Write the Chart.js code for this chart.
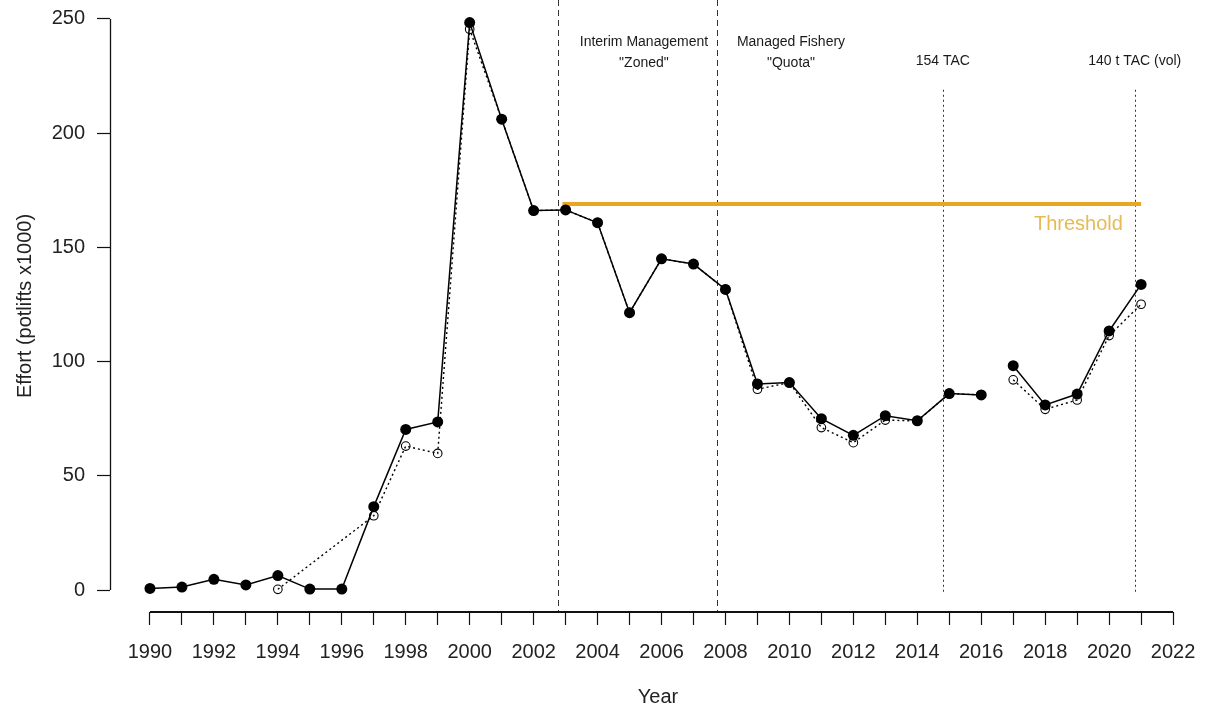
<!DOCTYPE html>
<html>
<head>
<meta charset="utf-8">
<script src="https://cdn.jsdelivr.net/npm/chart.js@4.4.1/dist/chart.umd.min.js"></script>
<style>
  html, body { margin: 0; padding: 0; background: #fff; }
  #wrap { width: 1206px; height: 713px; }
</style>
</head>
<body>
<div id="wrap"><canvas id="effortChart"></canvas></div>
<script>
// fishing seasons
var years = [1990, 1991, 1992, 1993, 1994, 1995, 1996, 1997, 1998, 1999,
             2000, 2001, 2002, 2003, 2004, 2005, 2006, 2007, 2008, 2009,
             2010, 2011, 2012, 2013, 2014, 2015, 2016, 2017, 2018, 2019,
             2020, 2021];

// effort, filled circles + solid line (potlifts x1000)
var effort = [0.7, 1.3, 4.7, 2.2, 6.3, 0.4, 0.4, 36.5, 70.3, 73.6,
              248.4, 206.1, 166.1, 166.4, 160.8, 121.4, 145, 142.7, 131.6, 90.2,
              90.8, 75, 67.7, 76.3, 74.1, 86, 85.4, 98.2, 81, 85.8,
              113.4, 133.8];

// effort, open circles + dotted line (null = no value)
var effortOpen = [null, null, null, null, 0.3, null, null, 32.5, 63, 59.8,
                  245.5, 206.1, 166.1, 166.4, 160.8, 121.4, 145, 142.7, 131.6, 87.9,
                  90.8, 71.1, 64.5, 74.4, 74, 86, 85.4, 92, 79.1, 83.2,
                  111.4, 125.1];

// no line joins this season to the next one
var gapAfter = 2016;

// threshold reference
var thresholdYears = [2002.9, 2021];
var thresholdValue = 169;

// management changes (dashed) and TAC changes (dotted)
var regimeYears = [2002.75, 2007.75];
var tacYears = [2014.8, 2020.8];
var tacRange = [-1, 219];

// axis ticks
var xTicks = [1990, 1991, 1992, 1993, 1994, 1995, 1996, 1997, 1998, 1999,
              2000, 2001, 2002, 2003, 2004, 2005, 2006, 2007, 2008, 2009,
              2010, 2011, 2012, 2013, 2014, 2015, 2016, 2017, 2018, 2019,
              2020, 2021, 2022];
var yTicks = [0, 50, 100, 150, 200, 250];

var FONT = '"Liberation Sans", Arial, Helvetica, sans-serif';

function toPoints(values) {
    return years.map(function (yr, i) {
        return { x: yr, y: values[i] };
    });
}

function breakSegment(ctx) {
    if (ctx.p0.parsed.x === gapAfter) {
        return 'rgba(0,0,0,0)';
    }
    return undefined;
}

var annotations = {
    id: 'annotations',
    beforeDatasetsDraw: function (chart) {
        var ctx = chart.ctx;
        var xs = chart.scales.x;
        var ys = chart.scales.y;
        var area = chart.chartArea;

        ctx.save();
        ctx.strokeStyle = '#333';
        ctx.lineWidth = 1;

        // dashed regime lines, full height
        ctx.setLineDash([6, 4]);
        regimeYears.forEach(function (yr) {
            var px = Math.round(xs.getPixelForValue(yr)) + 0.5;
            ctx.beginPath();
            ctx.moveTo(px, area.top);
            ctx.lineTo(px, area.bottom);
            ctx.stroke();
        });

        // dotted TAC lines
        ctx.setLineDash([2, 3]);
        tacYears.forEach(function (yr) {
            var px = Math.round(xs.getPixelForValue(yr)) + 0.5;
            ctx.beginPath();
            ctx.moveTo(px, ys.getPixelForValue(tacRange[1]));
            ctx.lineTo(px, ys.getPixelForValue(tacRange[0]));
            ctx.stroke();
        });
        ctx.restore();
    },
    afterDraw: function (chart) {
        var ctx = chart.ctx;
        var xs = chart.scales.x;
        var ys = chart.scales.y;
        var area = chart.chartArea;

        ctx.save();
        ctx.strokeStyle = '#111';

        // R style axes: only between first and last tick
        ctx.lineWidth = 1.3;
        ctx.beginPath();
        ctx.moveTo(area.left + 0.5, ys.getPixelForValue(yTicks[yTicks.length - 1]));
        ctx.lineTo(area.left + 0.5, ys.getPixelForValue(yTicks[0]));
        ctx.stroke();

        ctx.lineWidth = 2;
        ctx.beginPath();
        ctx.moveTo(xs.getPixelForValue(xTicks[0]), area.bottom);
        ctx.lineTo(xs.getPixelForValue(xTicks[xTicks.length - 1]), area.bottom);
        ctx.stroke();

        // text notes
        ctx.fillStyle = '#1a1a1a';
        ctx.font = '14px ' + FONT;
        ctx.textAlign = 'center';
        ctx.textBaseline = 'middle';
        ctx.fillText('Interim Management', xs.getPixelForValue(2005.45), ys.getPixelForValue(240));
        ctx.fillText('"Zoned"', xs.getPixelForValue(2005.45), ys.getPixelForValue(230.5));
        ctx.fillText('Managed Fishery', xs.getPixelForValue(2010.05), ys.getPixelForValue(240));
        ctx.fillText('"Quota"', xs.getPixelForValue(2010.05), ys.getPixelForValue(230.5));
        ctx.fillText('154 TAC', xs.getPixelForValue(tacYears[0]), ys.getPixelForValue(231.5));
        ctx.fillText('140 t TAC (vol)', xs.getPixelForValue(tacYears[1]), ys.getPixelForValue(231.5));

        ctx.fillStyle = '#E6BA55';
        ctx.font = '20px ' + FONT;
        ctx.textAlign = 'right';
        ctx.fillText('Threshold', xs.getPixelForValue(2020.43), ys.getPixelForValue(160.2));
        ctx.restore();
    }
};

var ctx = document.getElementById('effortChart').getContext('2d');
var effortChart = new Chart(ctx, {
    type: 'line',
    data: {
        datasets: [{
            label: 'Effort',
            data: toPoints(effort),
            borderColor: '#000',
            borderWidth: 1.5,
            backgroundColor: '#000',
            pointRadius: 5.5,
            pointHoverRadius: 5.5,
            pointBackgroundColor: '#000',
            pointBorderColor: '#000',
            pointBorderWidth: 0,
            tension: 0,
            segment: { borderColor: breakSegment }
        }, {
            label: 'Effort (open)',
            data: toPoints(effortOpen),
            borderColor: '#000',
            borderWidth: 1.4,
            borderDash: [2, 3],
            pointRadius: 4.3,
            pointHoverRadius: 4.3,
            pointBackgroundColor: 'rgba(0,0,0,0)',
            pointBorderColor: '#000',
            pointBorderWidth: 1.1,
            spanGaps: true,
            tension: 0,
            segment: { borderColor: breakSegment }
        }, {
            label: 'Threshold',
            data: thresholdYears.map(function (yr) { return { x: yr, y: thresholdValue }; }),
            borderColor: '#E8A623',
            borderWidth: 4,
            pointRadius: 0,
            pointHoverRadius: 0,
            tension: 0
        }]
    },
    options: {
        responsive: true,
        maintainAspectRatio: false,
        animation: false,
        events: [],
        layout: { padding: 0, autoPadding: false },
        plugins: {
            legend: { display: false },
            tooltip: { enabled: false }
        },
        scales: {
            x: {
                type: 'linear',
                min: 1988.75,
                max: 2023.03,
                border: { display: false },
                grid: {
                    drawOnChartArea: false,
                    drawTicks: true,
                    tickLength: 13,
                    tickColor: '#111',
                    tickWidth: 1.2
                },
                afterBuildTicks: function (scale) {
                    scale.ticks = xTicks.map(function (v) { return { value: v }; });
                },
                afterFit: function (scale) {
                    scale.height = 101;
                    scale.paddingLeft = 0;
                    scale.paddingRight = 0;
                },
                ticks: {
                    autoSkip: false,
                    maxRotation: 0,
                    padding: 15,
                    color: '#222',
                    font: { family: FONT, size: 20 },
                    callback: function (v) { return v % 2 === 0 ? String(v) : ''; }
                },
                title: {
                    display: true,
                    text: 'Year',
                    color: '#222',
                    font: { family: FONT, size: 20 },
                    padding: { top: 0, bottom: 4 }
                }
            },
            y: {
                type: 'linear',
                min: -9.63,
                max: 258.3,
                border: { display: false },
                grid: {
                    drawOnChartArea: false,
                    drawTicks: true,
                    tickLength: 13,
                    tickColor: '#111',
                    tickWidth: 1.2
                },
                afterBuildTicks: function (scale) {
                    scale.ticks = yTicks.map(function (v) { return { value: v }; });
                },
                afterFit: function (scale) {
                    scale.width = 110;
                    scale.paddingTop = 0;
                    scale.paddingBottom = 0;
                },
                ticks: {
                    padding: 12,
                    color: '#222',
                    font: { family: FONT, size: 20 }
                },
                title: {
                    display: true,
                    text: 'Effort (potlifts x1000)',
                    color: '#222',
                    font: { family: FONT, size: 20 },
                    padding: { top: 13, bottom: 0 }
                }
            }
        }
    },
    plugins: [annotations]
});
</script>
</body>
</html>
